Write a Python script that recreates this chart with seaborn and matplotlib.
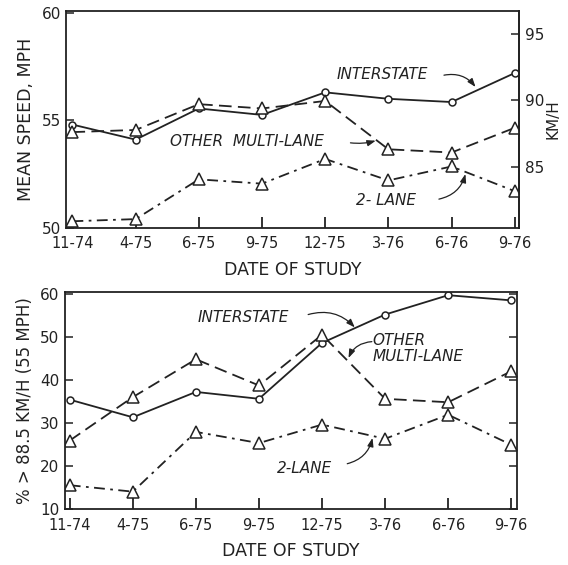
import matplotlib
matplotlib.use("Agg")
import matplotlib.pyplot as plt
import numpy as np
import seaborn as sns

sns.set_style("ticks")
plt.rcParams.update({
    "font.family": ["DejaVu Sans"],
    "axes.edgecolor": "#222222",
    "axes.linewidth": 1.3,
    "text.color": "#222222",
    "axes.labelcolor": "#222222",
    "xtick.color": "#222222",
    "ytick.color": "#222222",
})

DATES = ["11-74", "4-75", "6-75", "9-75", "12-75", "3-76", "6-76", "9-76"]

# mean speed, mph
SPD_INTERSTATE = [54.8, 54.1, 55.55, 55.25, 56.3, 56.0, 55.85, 57.2]
SPD_MULTILANE = [54.45, 54.55, 55.75, 55.55, 55.9, 53.65, 53.5, 54.65]
SPD_TWOLANE = [50.3, 50.4, 52.25, 52.05, 53.2, 52.2, 52.85, 51.7]

# percent over 88.5 km/h
PCT_INTERSTATE = [35.5, 31.4, 37.3, 35.7, 48.7, 55.3, 59.8, 58.6]
PCT_MULTILANE = [26.0, 36.1, 44.9, 38.8, 50.6, 35.7, 34.9, 42.1]
PCT_TWOLANE = [15.6, 14.1, 28.0, 25.4, 29.7, 26.4, 32.0, 25.0]

MPH_TO_KMH = 1.609344
INK = "#222222"
pos = np.arange(len(DATES))

STYLES = {
    "interstate": dict(marker="o", markersize=5, linestyle="-"),
    "multilane": dict(marker="^", markersize=8, linestyle=(0, (7, 3.5))),
    "twolane": dict(marker="^", markersize=8, linestyle=(0, (6, 3, 1.5, 3))),
}


def draw_series(ax, vals, key):
    sns.lineplot(x=pos, y=vals, ax=ax, color=INK, lw=1.3,
                 mfc="white", mec=INK, mew=1.1, **STYLES[key])


def arrow(ax, xy_text, xy_tip, rad):
    ax.annotate("", xy=xy_tip, xytext=xy_text,
                arrowprops=dict(arrowstyle="-|>,head_length=0.5,head_width=0.18",
                                connectionstyle=f"arc3,rad={rad}",
                                color=INK, lw=0.9, shrinkA=0, shrinkB=0))


def label(ax, x, y, text, **kw):
    ax.text(x, y, text, style="italic", fontsize=11, va="center", ha="left",
            color=INK, **kw)


def style_axes(ax, xlim):
    ax.set_xticks(pos)
    ax.set_xticklabels(DATES)
    ax.set_xlim(*xlim)
    ax.tick_params(axis="x", direction="in", length=8, width=1.3, labelsize=10.5, pad=6)
    ax.tick_params(axis="y", direction="in", length=6, width=1.1, labelsize=11, pad=4)
    ax.set_xlabel("DATE OF STUDY", fontsize=12.5, labelpad=7)
    for s in ax.spines.values():
        s.set_visible(True)


fig = plt.figure(figsize=(5.68, 5.65), dpi=100)

# ---- top panel: mean speed ----
ax1 = fig.add_axes([0.117, 0.597, 0.797, 0.384])
draw_series(ax1, SPD_INTERSTATE, "interstate")
draw_series(ax1, SPD_MULTILANE, "multilane")
draw_series(ax1, SPD_TWOLANE, "twolane")
ax1.set_ylim(50, 60.1)
ax1.set_yticks([50, 55, 60])
style_axes(ax1, (-0.095, 7.07))
ax1.set_ylabel("MEAN SPEED, MPH", fontsize=12.5, labelpad=5)

sec = ax1.secondary_yaxis("right", functions=(lambda v: v * MPH_TO_KMH,
                                              lambda v: v / MPH_TO_KMH))
sec.set_yticks([85, 90, 95])
sec.tick_params(direction="in", length=6, width=1.1, labelsize=11, pad=4)
sec.set_ylabel("KM/H", fontsize=11, labelpad=1)

label(ax1, 4.18, 57.15, "INTERSTATE")
arrow(ax1, (5.88, 57.1), (6.38, 56.55), -0.3)
label(ax1, 1.55, 54.0, "OTHER  MULTI-LANE")
arrow(ax1, (4.4, 53.95), (4.8, 54.05), 0.1)
label(ax1, 4.48, 51.28, "2- LANE")
arrow(ax1, (5.8, 51.33), (6.22, 52.5), 0.3)

# ---- bottom panel: percent over 88.5 km/h ----
ax2 = fig.add_axes([0.114, 0.0986, 0.796, 0.385])
draw_series(ax2, PCT_INTERSTATE, "interstate")
draw_series(ax2, PCT_MULTILANE, "multilane")
draw_series(ax2, PCT_TWOLANE, "twolane")
ax2.set_ylim(10, 60.6)
ax2.set_yticks([10, 20, 30, 40, 50, 60])
style_axes(ax2, (-0.08, 7.09))
ax2.tick_params(axis="y", right=True, labelright=False)
ax2.set_ylabel("% > 88.5 KM/H (55 MPH)", fontsize=12, labelpad=4)

label(ax2, 2.03, 54.6, "INTERSTATE")
arrow(ax2, (3.78, 55.3), (4.52, 52.3), -0.3)
label(ax2, 4.8, 47.4, "OTHER\nMULTI-LANE", linespacing=1.1)
arrow(ax2, (4.79, 49.0), (4.42, 45.2), 0.3)
label(ax2, 3.28, 19.5, "2-LANE")
arrow(ax2, (4.4, 20.6), (4.8, 26.6), 0.3)

fig.savefig("out.png", dpi=100, facecolor="white")
